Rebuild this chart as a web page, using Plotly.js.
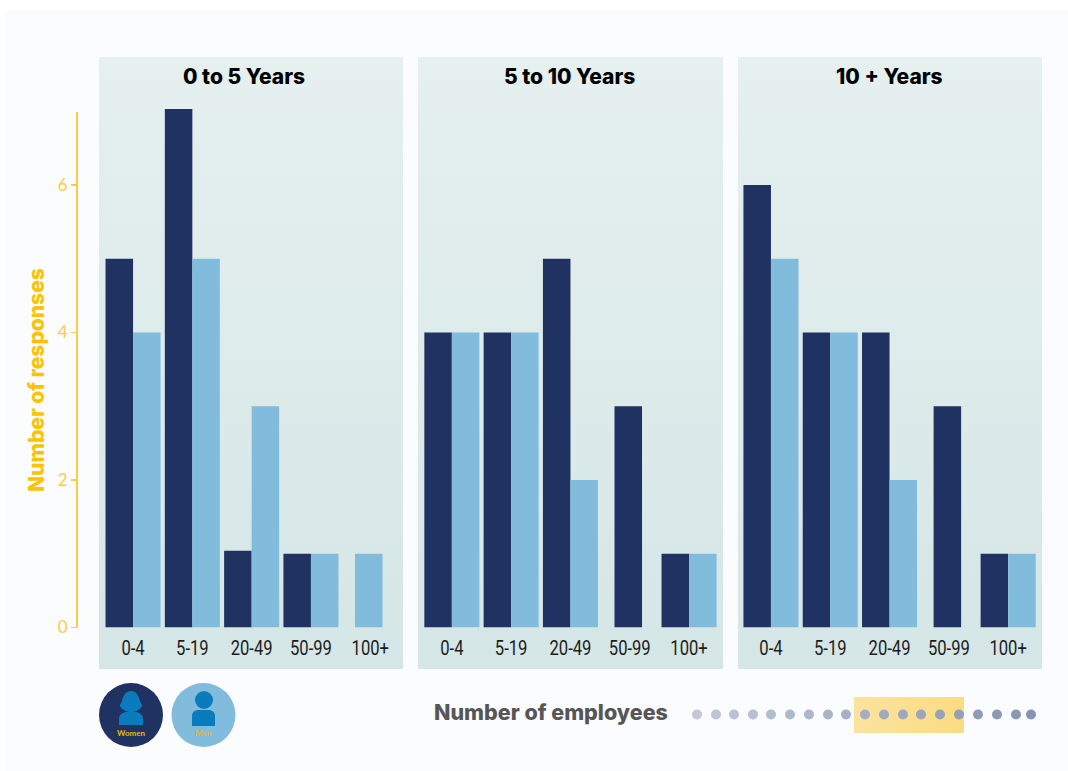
<!DOCTYPE html>
<html>
<head>
<meta charset="utf-8">
<script src="https://cdn.plot.ly/plotly-3.0.1.min.js"></script>
<style>html,body{margin:0;padding:0;background:#fff;overflow:hidden}</style>
</head>
<body>
<div id="chart" style="width:1068px;height:771px"></div>
<script>
const categories = ['0-4', '5-19', '20-49', '50-99', '100+'];
const panelTitles = ['0 to 5 Years', '5 to 10 Years', '10 + Years'];
const women1 = [5, 7.03, 1.04, 1, null];
const men1 = [4, 5, 3, 1, 1];
const women2 = [4, 4, 5, 3, 1];
const men2 = [4, 4, 2, null, 1];
const women3 = [6, 4, 4, 3, 1];
const men3 = [5, 4, 2, null, 1];
const yTicks = [0, 2, 4, 6];
const NAVY = '#203262', SKY = '#82bcdd', YEL = '#fdcb45';
const W = 1068, H = 771;
const px = x => x / W, py = y => 1 - y / H;
const HEAVY = 'Inter, sans-serif';

const BW = 0.464;
function offsets(own, other, first) {
  return own.map((v, i) => other[i] == null ? -BW / 2 - 0.025 : (first ? -BW : 0));
}
const sets = [[women1, men1], [women2, men2], [women3, men3]];
const traces = [];
sets.forEach((s, i) => {
  const sfx = i === 0 ? '' : String(i + 1);
  traces.push({type: 'bar', name: 'Women', x: categories, y: s[0], xaxis: 'x' + sfx, yaxis: 'y' + sfx,
    marker: {color: NAVY, line: {width: 0}}, width: BW, offset: offsets(s[0], s[1], true), showlegend: false, hoverinfo: 'x+y'});
  traces.push({type: 'bar', name: 'Men', x: categories, y: s[1], xaxis: 'x' + sfx, yaxis: 'y' + sfx,
    marker: {color: SKY, line: {width: 0}}, width: BW, offset: offsets(s[1], s[0], false), showlegend: false, hoverinfo: 'x+y'});
});
traces.push({type: 'scatter', x: [null], y: [null], xaxis: 'x4', yaxis: 'y4', showlegend: false, hoverinfo: 'skip'});

const domains = [[103.4, 399.9], [422.2, 718.7], [741.3, 1037.8]];
const yDom = [py(627.5), py(109)];
const layout = {
  width: W, height: H, margin: {l: 0, r: 0, t: 0, b: 0}, barmode: 'overlay',
  paper_bgcolor: 'rgba(0,0,0,0)', plot_bgcolor: 'rgba(0,0,0,0)', showlegend: false,
  font: {family: 'Lato, sans-serif'}, shapes: [], annotations: [], images: []
};
domains.forEach((d, i) => {
  const sfx = i === 0 ? '' : String(i + 1);
  layout['xaxis' + sfx] = {domain: [px(d[0]), px(d[1])], anchor: 'y' + sfx, type: 'category', categoryorder: 'array', categoryarray: categories,
    range: [-0.5, 4.5], showgrid: false, zeroline: false, showline: false, ticks: 'outside', ticklen: 2, tickcolor: 'rgba(0,0,0,0)',
    tickfont: {family: 'Roboto, sans-serif', size: 20, color: '#1c1c1c'}, fixedrange: true};
  layout['yaxis' + sfx] = {domain: yDom, anchor: 'x' + sfx, range: [0, 7.03], visible: false, fixedrange: true};
});
layout.xaxis4 = {domain: [px(78), px(79)], anchor: 'y4', visible: false, range: [0, 1]};
layout.yaxis4 = {domain: [py(627.5), py(112)], anchor: 'x4', range: [0, 6.99], tickvals: yTicks, showgrid: false, zeroline: false,
  showline: true, linecolor: YEL, linewidth: 2, ticks: 'outside', ticklen: 5, tickcolor: YEL, tickwidth: 1.5,
  tickfont: {family: 'Lato, sans-serif', size: 17, color: YEL}, fixedrange: true};

function svgImg(svg) { return 'data:image/svg+xml;base64,' + btoa(svg); }
function rectImage(x0, y0, x1, y1, c0, c1, dir) {
  const v = dir === 'h' ? 'x1="0" y1="0" x2="1" y2="0"' : 'x1="0" y1="0" x2="0" y2="1"';
  const svg = `<svg xmlns="http://www.w3.org/2000/svg" width="${x1 - x0}" height="${y1 - y0}" preserveAspectRatio="none"><defs><linearGradient id="g" ${v}><stop offset="0" stop-color="${c0}"/><stop offset="1" stop-color="${c1}"/></linearGradient></defs><rect width="100%" height="100%" fill="url(#g)"/></svg>`;
  return {source: svgImg(svg), xref: 'paper', yref: 'paper', x: px(x0), y: py(y0), sizex: px(x1 - x0), sizey: (y1 - y0) / H,
    xanchor: 'left', yanchor: 'top', sizing: 'stretch', layer: 'below'};
}
layout.images.push(rectImage(5, 10, 1068, 771, '#fbfcfe', '#fbfcfe'));
[[99, 403], [418, 723], [738, 1042]].forEach(p => layout.images.push(rectImage(p[0], 57, p[1], 669, '#e5f0ef', '#d5e6e6')));
layout.images.push(rectImage(854, 697, 964, 733, '#fbe39f', '#fadc82', 'h'));

const titleCx = [244, 569, 889];
panelTitles.forEach((t, i) => layout.annotations.push({text: t, xref: 'paper', yref: 'paper', x: px(titleCx[i]), y: py(76.5),
  xanchor: 'center', yanchor: 'middle', showarrow: false, font: {family: HEAVY, weight: 800, size: 21, color: '#000'}}));
layout.annotations.push({text: 'Number of employees', xref: 'paper', yref: 'paper', x: px(432), y: py(712), xanchor: 'left', yanchor: 'middle',
  showarrow: false, font: {family: HEAVY, weight: 800, size: 21.5, color: '#565656'}});
layout.annotations.push({text: 'Number of responses', xref: 'paper', yref: 'paper', x: px(36), y: py(380), xanchor: 'center', yanchor: 'middle', textangle: -90,
  showarrow: false, font: {family: HEAVY, weight: 800, size: 21, color: '#fdc300'}});
layout.annotations.push({text: '<b>Women</b>', xref: 'paper', yref: 'paper', x: px(130.5), y: py(733), xanchor: 'center', yanchor: 'middle',
  showarrow: false, font: {family: 'Lato, sans-serif', size: 8, color: '#e8b90c'}});
layout.annotations.push({text: '<b>Men</b>', xref: 'paper', yref: 'paper', x: px(203.5), y: py(733), xanchor: 'center', yanchor: 'middle',
  showarrow: false, font: {family: 'Lato, sans-serif', size: 8, color: '#e8b90c'}});

function circle(cx, cy, r, fill, layer) {
  return {type: 'circle', xref: 'paper', yref: 'paper', x0: px(cx - r), x1: px(cx + r), y0: py(cy - r), y1: py(cy + r), fillcolor: fill, line: {width: 0}, layer: layer || 'above'};
}
function path(pts, fill) {
  const d = pts.map(p => typeof p === 'string' ? p : px(p[0]) + ',' + py(p[1])).join(' ');
  return {type: 'path', xref: 'paper', yref: 'paper', path: d, fillcolor: fill, line: {width: 0}, layer: 'above'};
}
const ICON = '#0a7cbd';
layout.shapes.push(circle(131, 715, 32, NAVY), circle(203.5, 715, 32, SKY));
layout.shapes.push(path(['M', [131, 691], 'C', [137, 691], [139, 697], [140, 701], 'C', [141, 704], [143, 705], [142, 706], 'C', [140, 710], [135, 712], [131, 712], 'C', [127, 712], [122, 710], [120, 706], 'C', [119, 705], [121, 704], [122, 701], 'C', [123, 697], [125, 691], [131, 691], 'Z'], ICON));
layout.shapes.push(path(['M', [119, 725], 'L', [119, 719], 'C', [119, 714], [123, 712], [127, 712], 'L', [135, 712], 'C', [139, 712], [143, 714], [143, 719], 'L', [143, 725], 'Z'], ICON));
layout.shapes.push(circle(204, 700, 9, ICON));
layout.shapes.push(path(['M', [192, 726], 'L', [192, 716], 'C', [192, 712], [195, 710], [199, 710], 'L', [208, 710], 'C', [212, 710], [215, 712], [215, 716], 'L', [215, 726], 'Z'], ICON));
const dotX = [697, 716, 734, 753, 771, 790, 809, 828, 846, 865, 884, 903, 921, 940, 959, 978, 997, 1016, 1031];
dotX.forEach((x, i) => {
  const t = i / (dotX.length - 1);
  const c = [191 - t * 56, 199 - t * 52, 216 - t * 40].map(Math.round);
  layout.shapes.push(circle(x, 714.5, 5, `rgb(${c[0]},${c[1]},${c[2]})`));
});
Plotly.newPlot('chart', traces, layout, {displayModeBar: false, staticPlot: true}).then(() => {
  // condensed look for the category labels (no condensed face is installed)
  document.querySelectorAll('.xaxislayer-above text').forEach(t => {
    t.setAttribute('textLength', (t.getComputedTextLength() * 0.83).toFixed(1));
    t.setAttribute('lengthAdjust', 'spacingAndGlyphs');
  });
});
</script>
</body>
</html>
